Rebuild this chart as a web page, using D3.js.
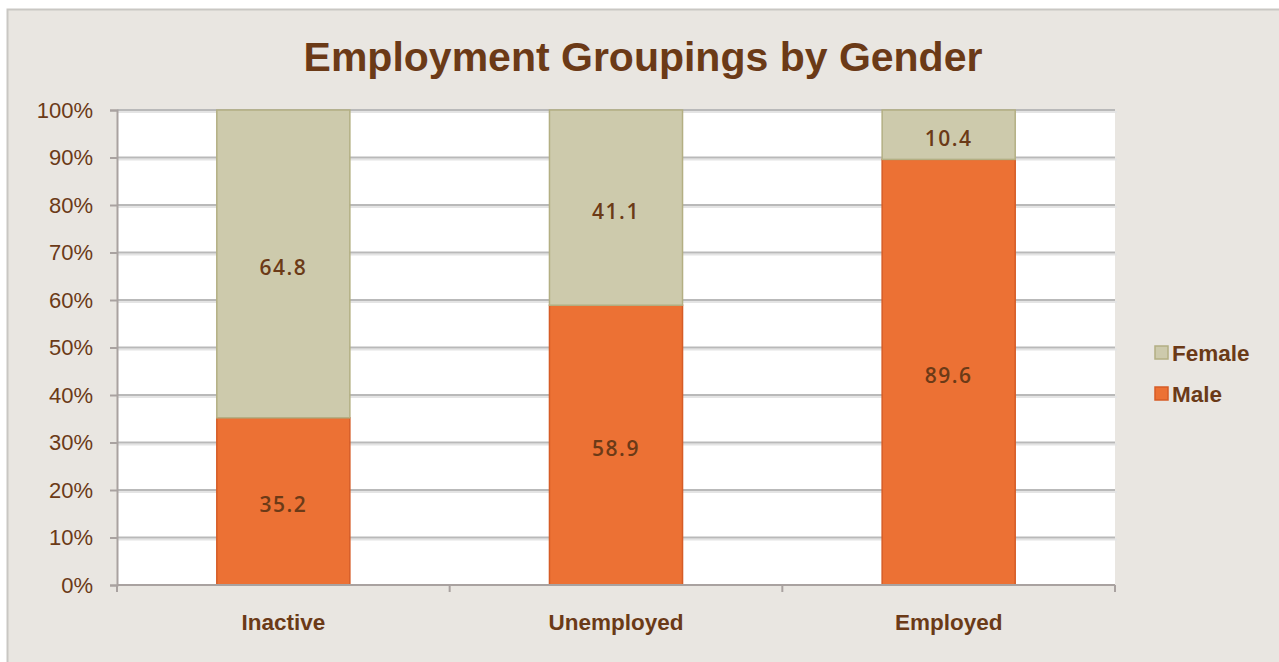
<!DOCTYPE html>
<html>
<head>
<meta charset="utf-8">
<script src="https://cdn.jsdelivr.net/npm/d3@7"></script>
<style>
  body { margin: 0; background: #fff; }
  svg { display: block; }
</style>
</head>
<body>
<div class="chart"></div>
<script>
// chart data
var categories = ['Inactive', 'Unemployed', 'Employed']
var maleValues = [35.2, 58.9, 89.6]
var femaleValues = [64.8, 41.1, 10.4]
var yTicks = [0, 10, 20, 30, 40, 50, 60, 70, 80, 90, 100]
var seriesNames = ['Female', 'Male']

var width = 1279
var height = 662
var brown = '#6B3A17'
var maleColor = '#EC7134'
var femaleColor = '#CDCAAC'

var svg = d3.select('.chart').append('svg')
    .attr('width', width)
    .attr('height', height)

// outer frame
svg.append('rect')
    .attr('x', 7.5).attr('y', 9.5)
    .attr('width', 1275).attr('height', 660)
    .attr('fill', '#E9E6E1')
    .attr('stroke', '#C9C7C3')
    .attr('stroke-width', 2)

var plot = { left: 117, right: 1115, top: 110, bottom: 585 }

var x = d3.scaleBand()
    .domain(categories)
    .range([plot.left, plot.right])
    .paddingInner(0.6)
    .paddingOuter(0.3)

var y = d3.scaleLinear()
    .domain([0, 100])
    .range([plot.bottom, plot.top])

// plot background
svg.append('rect')
    .attr('x', plot.left).attr('y', plot.top)
    .attr('width', plot.right - plot.left)
    .attr('height', plot.bottom - plot.top)
    .attr('fill', '#fff')

// gridlines with a soft shadow
var grid = svg.append('g')
grid.selectAll('.shadow').data(yTicks.slice(1)).enter().append('line')
    .attr('x1', plot.left).attr('x2', plot.right + 2)
    .attr('y1', function(d) { return y(d) + 2 })
    .attr('y2', function(d) { return y(d) + 2 })
    .attr('stroke', '#E4E4E4').attr('stroke-width', 2)
grid.selectAll('.line').data(yTicks.slice(1)).enter().append('line')
    .attr('x1', plot.left).attr('x2', plot.right)
    .attr('y1', function(d) { return y(d) })
    .attr('y2', function(d) { return y(d) })
    .attr('stroke', '#B9B9B9').attr('stroke-width', 2)

// y axis
var yAxis = svg.append('g')
    .attr('transform', 'translate(' + plot.left + ',0)')
    .call(d3.axisLeft(y).tickValues(yTicks).tickSize(7).tickPadding(17)
        .tickFormat(function(d) { return d + '%' }))
yAxis.select('.domain').attr('stroke', '#A9A2A0').attr('stroke-width', 2)
yAxis.selectAll('.tick line').attr('stroke', '#A9A2A0').attr('stroke-width', 2)
yAxis.selectAll('text')
    .attr('fill', brown)
    .style('font-family', 'Arial, "Liberation Sans", sans-serif')
    .style('font-size', '22px')

// bars
var stack = categories.map(function(c, i) {
    return { cat: c, male: maleValues[i], female: femaleValues[i] }
})

svg.selectAll('.male').data(stack).enter().append('rect')
    .attr('x', function(d) { return x(d.cat) })
    .attr('y', function(d) { return y(d.male) })
    .attr('width', x.bandwidth())
    .attr('height', function(d) { return y(0) - y(d.male) })
    .attr('fill', maleColor)
    .attr('stroke', '#D65C26').attr('stroke-width', 1.5)

svg.selectAll('.female').data(stack).enter().append('rect')
    .attr('x', function(d) { return x(d.cat) })
    .attr('y', function(d) { return y(d.male + d.female) })
    .attr('width', x.bandwidth())
    .attr('height', function(d) { return y(d.male) - y(d.male + d.female) })
    .attr('fill', femaleColor)
    .attr('stroke', '#B3AF83').attr('stroke-width', 1.5)

// data labels
var labelFont = '"Open Sans", "DejaVu Sans", sans-serif'
svg.selectAll('.mlab').data(stack).enter().append('text')
    .attr('x', function(d) { return x(d.cat) + x.bandwidth() / 2 })
    .attr('y', function(d) { return y(d.male / 2) + 11 })
    .attr('text-anchor', 'middle')
    .attr('fill', brown)
    .style('font-family', labelFont).style('font-size', '21px')
    .style('font-weight', 600).style('letter-spacing', '1.5px')
    .text(function(d) { return d.male.toFixed(1) })

svg.selectAll('.flab').data(stack).enter().append('text')
    .attr('x', function(d) { return x(d.cat) + x.bandwidth() / 2 })
    .attr('y', function(d) { return y(d.male + d.female / 2) + 11 })
    .attr('text-anchor', 'middle')
    .attr('fill', brown)
    .style('font-family', labelFont).style('font-size', '21px')
    .style('font-weight', 600).style('letter-spacing', '1.5px')
    .text(function(d) { return d.female.toFixed(1) })

// x axis
var xAxisLine = d3.scaleLinear().domain([0, 3]).range([plot.left, plot.right])
var xa = svg.append('g')
xa.append('line')
    .attr('x1', plot.left).attr('x2', plot.right)
    .attr('y1', plot.bottom).attr('y2', plot.bottom)
    .attr('stroke', '#A9A2A0').attr('stroke-width', 2)
xa.selectAll('.xt').data([0, 1, 2, 3]).enter().append('line')
    .attr('x1', function(d) { return xAxisLine(d) })
    .attr('x2', function(d) { return xAxisLine(d) })
    .attr('y1', plot.bottom).attr('y2', plot.bottom + 7)
    .attr('stroke', '#A9A2A0').attr('stroke-width', 2)
xa.selectAll('.xl').data(categories).enter().append('text')
    .attr('x', function(d) { return x(d) + x.bandwidth() / 2 })
    .attr('y', 630)
    .attr('text-anchor', 'middle')
    .attr('fill', brown)
    .style('font-family', 'Arial, "Liberation Sans", sans-serif')
    .style('font-size', '22.5px').style('font-weight', 'bold')
    .text(function(d) { return d })

// title
svg.append('text')
    .attr('x', 643).attr('y', 71)
    .attr('text-anchor', 'middle')
    .attr('fill', brown)
    .style('font-family', 'Arial, "Liberation Sans", sans-serif')
    .style('font-size', '41px').style('font-weight', 'bold')
    .text('Employment Groupings by Gender')

// legend
var legendColors = { Female: [femaleColor, '#B3AF83'], Male: [maleColor, '#D65C26'] }
var legend = svg.selectAll('.legend').data(seriesNames).enter().append('g')
    .attr('transform', function(d, i) { return 'translate(1155,' + (346 + i * 41) + ')' })
legend.append('rect')
    .attr('width', 13).attr('height', 13)
    .attr('fill', function(d) { return legendColors[d][0] })
    .attr('stroke', function(d) { return legendColors[d][1] })
    .attr('stroke-width', 1.5)
legend.append('text')
    .attr('x', 17).attr('y', 15)
    .attr('fill', brown)
    .style('font-family', 'Arial, "Liberation Sans", sans-serif')
    .style('font-size', '22.5px').style('font-weight', 'bold')
    .text(function(d) { return d })
</script>
</body>
</html>
